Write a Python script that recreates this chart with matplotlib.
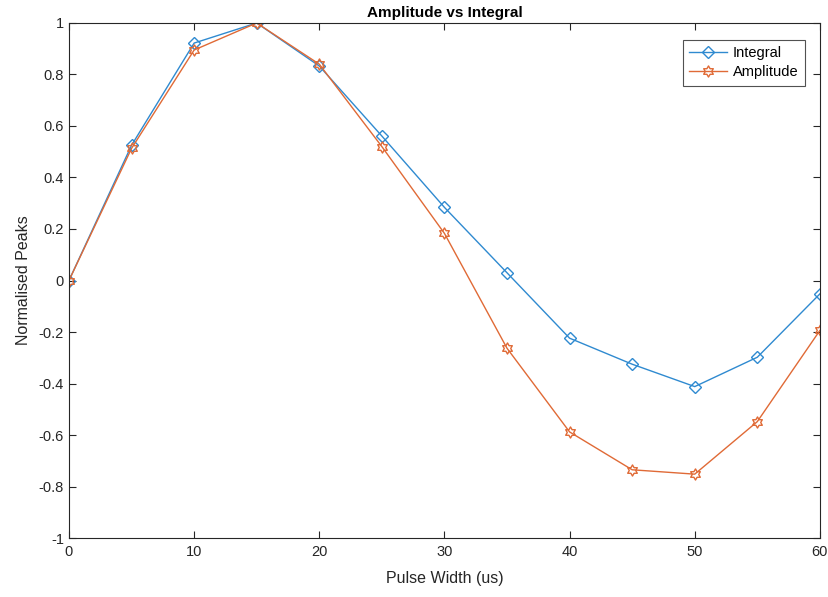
import numpy as np
import matplotlib.pyplot as plt
from matplotlib.path import Path

plt.rcParams["font.family"] = ["Liberation Sans", "DejaVu Sans"]
plt.rcParams["font.size"] = 10

pulse_width = [0, 5, 10, 15, 20, 25, 30, 35, 40, 45, 50, 55, 60]
integral = [0, 0.525, 0.922, 1.0, 0.833, 0.561, 0.284, 0.03, -0.224, -0.325, -0.412, -0.298, -0.052]
amplitude = [0, 0.513, 0.895, 1.0, 0.84, 0.52, 0.183, -0.263, -0.588, -0.735, -0.752, -0.548, -0.194]

# six-pointed star marker (two overlapping triangles)
ang = np.pi/2 + np.arange(12)*np.pi/6
rad = np.where(np.arange(12) % 2 == 0, 1.0, 0.577)
verts = np.column_stack([rad*np.cos(ang), rad*np.sin(ang)])
verts = np.vstack([verts, verts[:1]])
hexagram = Path(verts, [Path.MOVETO] + [Path.LINETO]*11 + [Path.CLOSEPOLY])

blue = '#2f8ad0'
orange = '#e06a36'
axcol = '#262626'

fig = plt.figure(figsize=(8.29, 5.97), dpi=100)
ax = fig.add_axes([0.0832, 0.0988, 0.9058, 0.8627])

ax.plot(pulse_width, integral, color=blue, lw=1, marker='D', ms=6, mfc='none', mew=1,
        label='Integral')
ax.plot(pulse_width, amplitude, color=orange, lw=1, marker=hexagram, ms=8, mfc='none', mew=1,
        label='Amplitude')

ax.set_xlim(0, 60)
ax.set_ylim(-1, 1)
ax.set_xticks(np.arange(0, 61, 10))
ax.set_yticks(np.arange(-1, 1.01, 0.2))
ax.set_yticklabels(['-1', '-0.8', '-0.6', '-0.4', '-0.2', '0', '0.2', '0.4', '0.6', '0.8', '1'])
ax.tick_params(direction='in', top=True, right=True, length=5, width=0.8,
               colors=axcol, labelcolor=axcol, labelsize=10.5)
ax.tick_params(axis='x', pad=5)
for s in ax.spines.values():
    s.set_color(axcol)
    s.set_linewidth(0.8)

ax.set_title('Amplitude vs Integral', fontsize=11, fontweight='bold', color='black', pad=4)
ax.set_xlabel('Pulse Width (us)', fontsize=11.5, color=axcol, labelpad=9)
ax.set_ylabel('Normalised Peaks', fontsize=11.5, color=axcol, labelpad=6)

leg = ax.legend(loc='upper right', bbox_to_anchor=(0.99, 0.982), fancybox=False,
                edgecolor=axcol, fontsize=10.5, handlelength=2.6, borderpad=0.45,
                labelspacing=0.35, handletextpad=0.4)
leg.get_frame().set_linewidth(0.8)

plt.savefig('out.png', dpi=100)
